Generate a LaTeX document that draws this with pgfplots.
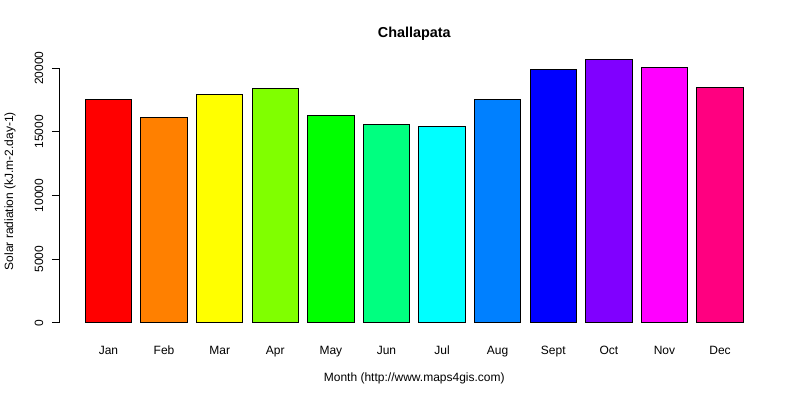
\documentclass[border=0pt]{standalone}
\usepackage{pgfplots}
\pgfplotsset{compat=1.18}
\usepackage{fontspec}
\setmainfont{Liberation Sans}

% R rainbow(12)
\definecolor{c1}{HTML}{FF0000}
\definecolor{c2}{HTML}{FF8000}
\definecolor{c3}{HTML}{FFFF00}
\definecolor{c4}{HTML}{80FF00}
\definecolor{c5}{HTML}{00FF00}
\definecolor{c6}{HTML}{00FF80}
\definecolor{c7}{HTML}{00FFFF}
\definecolor{c8}{HTML}{0080FF}
\definecolor{c9}{HTML}{0000FF}
\definecolor{c10}{HTML}{8000FF}
\definecolor{c11}{HTML}{FF00FF}
\definecolor{c12}{HTML}{FF0080}

\begin{document}
\begin{tikzpicture}
\useasboundingbox (0,0) rectangle (600pt,-300pt);
\begin{axis}[
    at={(44.25pt,-250.1pt)}, anchor=south west,
    scale only axis,
    width=532.9pt, height=213.3pt,
    xmin=-0.89, xmax=11.89,
    ymin=-827, ymax=21497,
    ybar, bar width=0.8333, bar shift=0pt,
    axis line style={draw=none},
    clip=false,
    font=\fontsize{9}{10}\selectfont,
    xtick={0,1,2,3,4,5,6,7,8,9,10,11},
    xticklabels={Jan,Feb,Mar,Apr,May,Jun,Jul,Aug,Sept,Oct,Nov,Dec},
    xtick style={draw=none},
    xticklabel style={anchor=base, yshift=-10.3pt},
    ytick={0,5000,10000,15000,20000},
    ytick pos=left,
    scaled y ticks=false,
    yticklabel style={rotate=90, anchor=south, yshift=3pt, /pgf/number format/fixed, /pgf/number format/1000 sep={}},
    /pgf/number format/assume math mode=true,
    tick align=outside,
    major tick length=5.25pt,
    ytick style={black, line width=0.75pt},
    title={Challapata},
    title style={at={(0.5,1)}, anchor=center, yshift=5.25pt, font=\fontsize{10.8}{12}\selectfont\bfseries},
    xlabel={Month (http://www.maps4gis.com)},
    xlabel style={at={(0.5,0)}, anchor=center, yshift=-33.4pt},
    ylabel={Solar radiation (kJ.m-2.day-1)},
    ylabel style={at={(axis description cs:-0.069,0.5)}, anchor=center},
    every axis plot/.append style={draw=black, line width=0.75pt},
]
\addplot[fill=c1]  coordinates {(0,17560)};
\addplot[fill=c2]  coordinates {(1,16150)};
\addplot[fill=c3]  coordinates {(2,17950)};
\addplot[fill=c4]  coordinates {(3,18395)};
\addplot[fill=c5]  coordinates {(4,16275)};
\addplot[fill=c6]  coordinates {(5,15570)};
\addplot[fill=c7]  coordinates {(6,15410)};
\addplot[fill=c8]  coordinates {(7,17530)};
\addplot[fill=c9]  coordinates {(8,19885)};
\addplot[fill=c10] coordinates {(9,20670)};
\addplot[fill=c11] coordinates {(10,20040)};
\addplot[fill=c12] coordinates {(11,18470)};
\draw[black, line width=0.75pt] (axis cs:-0.89,0) -- (axis cs:-0.89,20000);
\end{axis}
\end{tikzpicture}
\end{document}
